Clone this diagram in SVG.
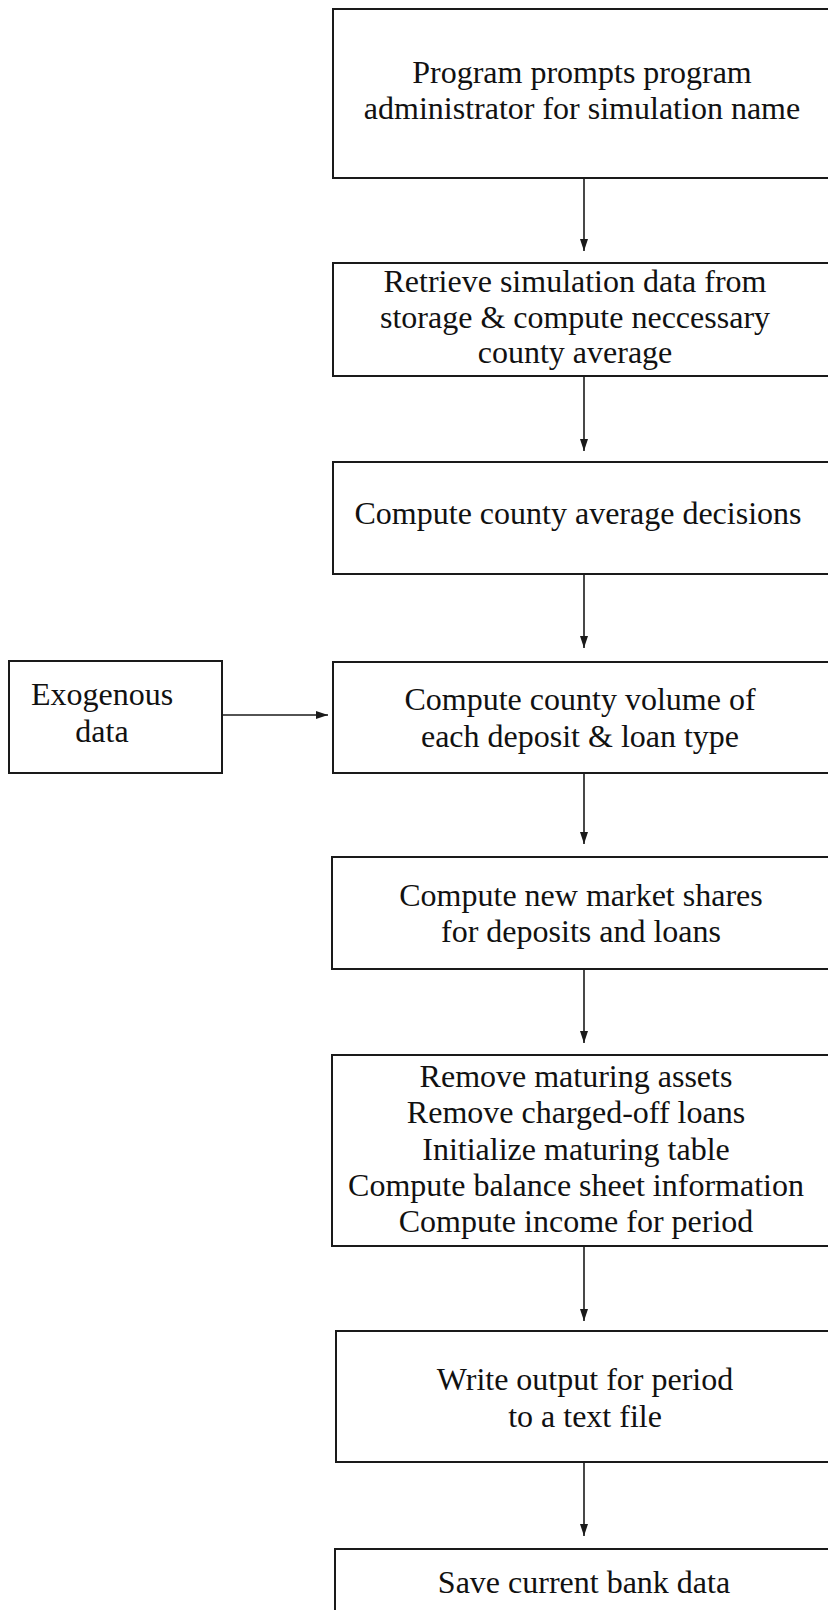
<svg xmlns="http://www.w3.org/2000/svg" width="828" height="1610" viewBox="0 0 828 1610">
<style>
.box{fill:#fff;stroke:#1a1a1a;stroke-width:2}
.t{font-family:"Liberation Serif","Times New Roman",serif;font-size:32px;fill:#111;text-anchor:middle}
.c{stroke:#1a1a1a;stroke-width:1.6;fill:none}
</style>
<defs>
<marker id="ah" viewBox="0 0 12 8" refX="12" refY="4" markerWidth="12" markerHeight="8" markerUnits="userSpaceOnUse" orient="auto">
<path d="M0,0 L12,4 L0,8 Z" fill="#1a1a1a"/>
</marker>
</defs>
<rect width="828" height="1610" fill="#fff"/>
<g id="connectors">
<line class="c" x1="584" y1="178" x2="584" y2="251" marker-end="url(#ah)"/>
<line class="c" x1="584" y1="376" x2="584" y2="451" marker-end="url(#ah)"/>
<line class="c" x1="584" y1="574" x2="584" y2="648" marker-end="url(#ah)"/>
<line class="c" x1="584" y1="773" x2="584" y2="844" marker-end="url(#ah)"/>
<line class="c" x1="584" y1="969" x2="584" y2="1043" marker-end="url(#ah)"/>
<line class="c" x1="584" y1="1246" x2="584" y2="1321" marker-end="url(#ah)"/>
<line class="c" x1="584" y1="1462" x2="584" y2="1536" marker-end="url(#ah)"/>
<line class="c" x1="222" y1="715" x2="328" y2="715" marker-end="url(#ah)"/>
</g>
<g id="n1">
<rect class="box" x="333" y="9" width="520" height="169"/>
<text class="t" x="582" y="83">Program prompts program</text>
<text class="t" x="582" y="119">administrator for simulation name</text>
</g>
<g id="n2">
<rect class="box" x="333" y="263" width="520" height="113"/>
<text class="t" x="575" y="292">Retrieve simulation data from</text>
<text class="t" x="575" y="328">storage &amp; compute neccessary</text>
<text class="t" x="575" y="363">county average</text>
</g>
<g id="n3">
<rect class="box" x="333" y="462" width="520" height="112"/>
<text class="t" x="578" y="524">Compute county average decisions</text>
</g>
<g id="exo">
<rect class="box" x="9" y="661" width="213" height="112"/>
<text class="t" x="102" y="705">Exogenous</text>
<text class="t" x="102" y="742">data</text>
</g>
<g id="n4">
<rect class="box" x="333" y="662" width="520" height="111"/>
<text class="t" x="580" y="710">Compute county volume of</text>
<text class="t" x="580" y="747">each deposit &amp; loan type</text>
</g>
<g id="n5">
<rect class="box" x="332" y="857" width="520" height="112"/>
<text class="t" x="581" y="906">Compute new market shares</text>
<text class="t" x="581" y="942">for deposits and loans</text>
</g>
<g id="n6">
<rect class="box" x="332" y="1055" width="520" height="191"/>
<text class="t" x="576" y="1087">Remove maturing assets</text>
<text class="t" x="576" y="1123">Remove charged-off loans</text>
<text class="t" x="576" y="1160">Initialize maturing table</text>
<text class="t" x="576" y="1196">Compute balance sheet information</text>
<text class="t" x="576" y="1232">Compute income for period</text>
</g>
<g id="n7">
<rect class="box" x="336" y="1331" width="520" height="131"/>
<text class="t" x="585" y="1390">Write output for period</text>
<text class="t" x="585" y="1427">to a text file</text>
</g>
<g id="n8">
<rect class="box" x="335" y="1549" width="520" height="80"/>
<text class="t" x="584" y="1593">Save current bank data</text>
</g>
</svg>
